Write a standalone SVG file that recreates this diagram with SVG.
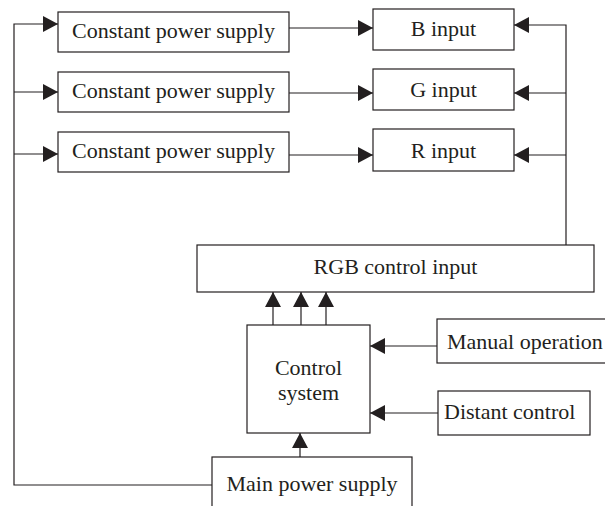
<svg xmlns="http://www.w3.org/2000/svg" width="605" height="506" viewBox="0 0 605 506">
<defs>
<style>
.box{fill:#fff;stroke:#231f20;stroke-width:1.2}
.ln{fill:none;stroke:#231f20;stroke-width:1.2}
text{font-family:"Liberation Serif","Times New Roman",serif;font-size:22px;fill:#231f20}
.c{text-anchor:middle}
</style>
<marker id="ah" markerUnits="userSpaceOnUse" markerWidth="15" markerHeight="16" refX="15" refY="8" orient="auto" viewBox="0 0 15 16">
<path d="M0,0 L15,8 L0,16 Z" fill="#231f20"/>
</marker>
</defs>
<rect width="605" height="506" fill="#fff"/>
<g id="connectors">
<path class="ln" d="M212,485 H14 V24 H58" marker-end="url(#ah)"/>
<path class="ln" d="M14,92 H58" marker-end="url(#ah)"/>
<path class="ln" d="M14,154 H58" marker-end="url(#ah)"/>
<path class="ln" d="M289,28 H373" marker-end="url(#ah)"/>
<path class="ln" d="M289,93 H373" marker-end="url(#ah)"/>
<path class="ln" d="M289,155 H373" marker-end="url(#ah)"/>
<path class="ln" d="M566,245 V25 H514" marker-end="url(#ah)"/>
<path class="ln" d="M566,93 H514" marker-end="url(#ah)"/>
<path class="ln" d="M566,155 H514" marker-end="url(#ah)"/>
<path class="ln" d="M273,325 V292" marker-end="url(#ah)"/>
<path class="ln" d="M301,325 V292" marker-end="url(#ah)"/>
<path class="ln" d="M326,325 V292" marker-end="url(#ah)"/>
<path class="ln" d="M437,346 H370" marker-end="url(#ah)"/>
<path class="ln" d="M438,413 H370" marker-end="url(#ah)"/>
<path class="ln" d="M300,457 V433" marker-end="url(#ah)"/>
</g>
<g id="cps1"><rect class="box" x="58" y="12" width="231" height="40"/><text class="c" x="173.5" y="38">Constant power supply</text></g>
<g id="cps2"><rect class="box" x="58" y="72" width="231" height="40"/><text class="c" x="173.5" y="98">Constant power supply</text></g>
<g id="cps3"><rect class="box" x="58" y="132" width="231" height="40"/><text class="c" x="173.5" y="158">Constant power supply</text></g>
<g id="binput"><rect class="box" x="373" y="9" width="141" height="41"/><text class="c" x="443.5" y="36">B input</text></g>
<g id="ginput"><rect class="box" x="373" y="69" width="141" height="41"/><text class="c" x="443.5" y="97">G input</text></g>
<g id="rinput"><rect class="box" x="373" y="129" width="141" height="42"/><text class="c" x="443.5" y="158">R input</text></g>
<g id="rgb"><rect class="box" x="197" y="245" width="397" height="47"/><text class="c" x="395.5" y="274">RGB control input</text></g>
<g id="control"><rect class="box" x="247" y="325" width="123" height="108"/><text class="c" x="308.5" y="375">Control</text><text class="c" x="308.5" y="400">system</text></g>
<g id="manual"><rect class="box" x="437" y="319" width="190" height="44"/><text x="447" y="349">Manual operation</text></g>
<g id="distant"><rect class="box" x="438" y="391" width="152" height="44"/><text x="444" y="419">Distant control</text></g>
<g id="mainps"><rect class="box" x="212" y="457" width="200" height="70"/><text class="c" x="312" y="491">Main power supply</text></g>
</svg>
